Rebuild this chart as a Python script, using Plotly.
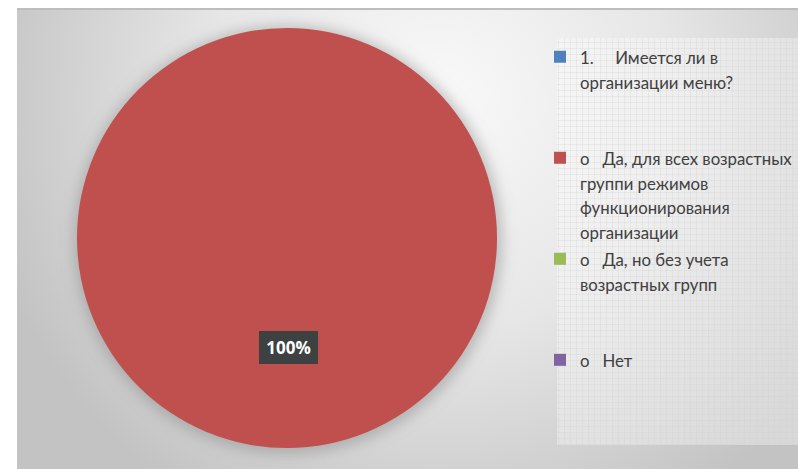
import base64
import math
import plotly.graph_objects as go

# ---- data ----
labels = [
    "1.\u00a0\u00a0\u00a0\u00a0\u00a0Имеется ли в<br>организации меню?<br> <br> ",
    "o\u00a0\u00a0\u00a0Да, для всех возрастных<br>группи режимов<br>функционирования<br>организации",
    "o\u00a0\u00a0\u00a0Да, но без учета<br>возрастных групп<br> <br> ",
    "o\u00a0\u00a0\u00a0Нет",
]
values = [0, 100, 0, 0]
colors = ["#4F81BD", "#C0504D", "#9BBB59", "#8064A2"]

W, H = 798, 469

# pie geometry (pixels)
pcx, pcy, pr = 287, 238, 210
dom_x = [(pcx - pr) / W, (pcx + pr) / W]
dom_y = [(H - pcy - pr) / H, (H - pcy + pr) / H]

# ---- background (styling only) ----
svg = f'''<svg xmlns="http://www.w3.org/2000/svg" width="{W}" height="{H}" viewBox="0 0 {W} {H}">
<defs>
<radialGradient id="g" gradientUnits="userSpaceOnUse" cx="440" cy="100" r="470">
<stop offset="0" stop-color="#f9f9f9"/>
<stop offset="0.5" stop-color="#e6e6e6"/>
<stop offset="1" stop-color="#c3c3c3"/>
</radialGradient>
<filter id="b" x="-20%" y="-20%" width="140%" height="140%"><feGaussianBlur stdDeviation="7"/></filter>
<pattern id="p" width="6" height="6" patternUnits="userSpaceOnUse">
<rect width="6" height="6" fill="#ffffff" fill-opacity="0.35"/>
<path d="M0 0.5H6M0.5 0V6" stroke="#d2d2d2" stroke-opacity="0.3" stroke-width="1"/>
</pattern>
</defs>
<rect width="{W}" height="{H}" fill="#ffffff"/>
<rect x="17" y="8" width="{W-17}" height="{H-8}" fill="#bdbdbd"/>
<rect x="17" y="10" width="{W-17}" height="{H-10}" fill="url(#g)"/>
<circle cx="{pcx+1}" cy="{pcy+2}" r="{pr+4}" fill="#8a8a8a" fill-opacity="0.5" filter="url(#b)"/>
<rect x="557" y="38" width="{W-557}" height="407" fill="url(#p)"/>
</svg>'''
svg_uri = "data:image/svg+xml;base64," + base64.b64encode(svg.encode("utf-8")).decode()

legend_text = [f'<span style="font-size:16.8px">{t}</span>' for t in labels]

fig = go.Figure()
fig.add_trace(go.Pie(
    labels=legend_text,
    values=values,
    marker=dict(colors=colors, line=dict(width=0)),
    sort=False,
    direction="clockwise",
    rotation=0,
    textinfo="none",
    hoverinfo="percent",
    domain=dict(x=dom_x, y=dom_y),
    showlegend=True,
))

# data label for the non-zero slice, placed along the slice bisector
total = sum(values)
annotations = []
cum = 0
for v in values:
    if v > 0:
        mid = (cum + v / 2) / total
        th = 2 * math.pi * mid
        k = 0.52
        ax = (pcx + 1 + math.sin(th) * k * pr) / W
        ay = (H - pcy + math.cos(th) * k * pr) / H
        annotations.append(dict(
            x=ax, y=ay, xref="paper", yref="paper",
            text=f"<b>{round(100 * v / total)}%</b>",
            showarrow=False,
            font=dict(family="Open Sans", size=17, color="#ffffff"),
            bgcolor="#3e4141",
            bordercolor="#3e4141",
            borderwidth=1,
            borderpad=6,
            width=45, height=19,
            xanchor="center", yanchor="middle",
        ))
    cum += v

fig.update_layout(
    width=W, height=H,
    margin=dict(l=0, r=0, t=0, b=0, autoexpand=False),
    paper_bgcolor="#ffffff",
    plot_bgcolor="rgba(0,0,0,0)",
    images=[dict(source=svg_uri, xref="paper", yref="paper", x=0, y=1,
                  sizex=1, sizey=1, xanchor="left", yanchor="top",
                  sizing="stretch", layer="below")],
    legend=dict(
        x=540 / W, y=1 - 38 / H, xanchor="left", yanchor="top",
        font=dict(family="Lato", size=18.85, color="#404040"),
        bgcolor="rgba(0,0,0,0)",
        valign="top",
        itemclick=False, itemdoubleclick=False,
    ),
    annotations=annotations,
)

fig.write_html(
    "out.html",
    config={"displayModeBar": False},
    post_script="document.body.style.margin='0';document.body.style.padding='0';document.body.style.overflow='hidden';",
)
